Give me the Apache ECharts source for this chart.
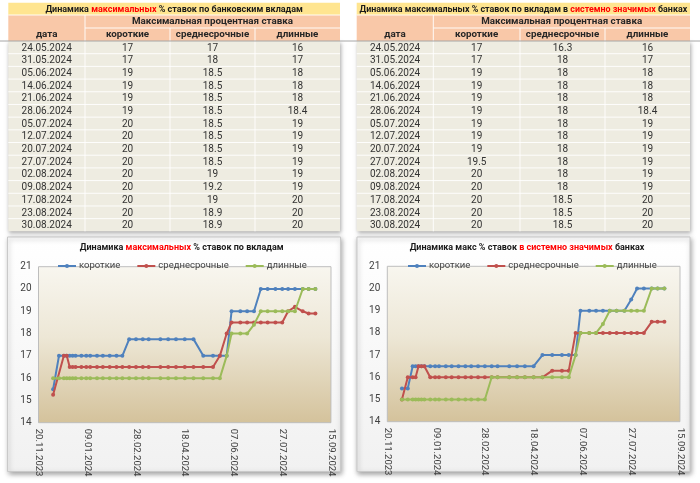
<!DOCTYPE html>
<html><head><meta charset="utf-8">
<script src="https://cdn.jsdelivr.net/npm/echarts@6/dist/echarts.min.js"></script>
<style>html,body{margin:0;padding:0;background:#fff}#c{width:700px;height:483px}</style>
</head><body><div id="c"></div>
<script>
// ---------- DATA ----------
const dates = ['05.12.2023','11.12.2023','16.12.2023','19.12.2023','22.12.2023','25.12.2023','28.12.2023',
  '03.01.2024','08.01.2024','12.01.2024','19.01.2024','25.01.2024','01.02.2024','08.02.2024','14.02.2024',
  '21.02.2024','28.02.2024','06.03.2024','12.03.2024','24.03.2024','01.04.2024','09.04.2024','18.04.2024',
  '27.04.2024','07.05.2024','17.05.2024','24.05.2024','31.05.2024','05.06.2024','14.06.2024','21.06.2024',
  '28.06.2024','05.07.2024','12.07.2024','20.07.2024','27.07.2024','02.08.2024','09.08.2024','17.08.2024',
  '23.08.2024','30.08.2024'];
// all banks
const shortAll = [15.5,17,17,17,17,17,17,17,17,17,17,17,17,17,17,
  17.75,17.75,17.75,17.75,17.75,17.75,17.75,17.75,17.75,
  17,17,17,17,19,19,19,19,20,20,20,20,20,20,20,20,20];
const midAll = [15.25,null,17,17,16.5,16.5,16.5,16.5,16.5,16.5,16.5,16.5,16.5,16.5,16.5,16.5,16.5,16.5,16.5,16.5,16.5,16.5,16.5,16.5,16.5,16.5,
  17,18,18.5,18.5,18.5,18.5,18.5,18.5,18.5,18.5,19,19.2,19,18.9,18.9];
const longAll = [16,16,16,16,16,16,16,16,16,16,16,16,16,16,16,16,16,16,16,16,16,16,16,16,16,16,16,
  17,18,18,18,18.4,19,19,19,19,19,19,20,20,20];
// systemically important banks
const shortSys = [15.5,15.5,16.5,16.5,16.5,16.5,16.5,16.5,16.5,16.5,16.5,16.5,16.5,16.5,16.5,16.5,16.5,16.5,16.5,16.5,16.5,16.5,16.5,
  17,17,17,17,17,19,19,19,19,19,19,19,19.5,20,20,20,20,20];
const midSys = [15,16,16,16,16.5,16.5,16.5,16,16,16,16,16,16,16,16,16,16,16,16,16,16,16,16,16,
  16.3,16.3,16.3,18,18,18,18,18,18,18,18,18,18,18,18.5,18.5,18.5];
const longSys = [15,15,15,15,15,15,15,15,15,15,15,15,15,15,15,15,15,
  16,16,16,16,16,16,16,16,16,16,17,18,18,18,18.4,19,19,19,19,19,19,20,20,20];
const seriesNames = ['короткие','среднесрочные','длинные'];
const xTicks = ['20.11.2023','09.01.2024','28.02.2024','18.04.2024','07.06.2024','27.07.2024','15.09.2024'];
const yTicks = [14,15,16,17,18,19,20,21];
const tableRows = 15;

// ---------- HELPERS ----------
const FONT = 'Roboto';
const DAY = 86400000;
function ts(s){const p=s.split('.').map(Number);return Date.UTC(p[2],p[1]-1,p[0]);}
const t0 = ts(xTicks[0]);
function dayOf(s){return (ts(s)-t0)/DAY;}
function pad(n){return (n<10?'0':'')+n;}
function fmtDay(v){const d=new Date(t0+Math.round(v)*DAY);return pad(d.getUTCDate())+'.'+pad(d.getUTCMonth()+1)+'.'+d.getUTCFullYear();}
const colors = ['#4F81BD','#C0504D','#9BBB59'];
const mctx=document.createElement('canvas').getContext('2d');
function fitSize(plain,target){mctx.font='bold 10px '+FONT;return Math.min(11,10*target/mctx.measureText(plain).width);}
function richTitle(parts,x,y,target,z){
  const plain=parts.map(p=>p[0]).join('');
  const fs=fitSize(plain,target);
  const text=parts.map(p=>'{'+(p[1]?'r':'b')+'|'+p[0]+'}').join('');
  return {type:'text',z:z||3,style:{x:x,y:y,align:'center',verticalAlign:'middle',text:text,
    rich:{b:{fontFamily:FONT,fontWeight:'bold',fontSize:fs,fill:'#1a1a1a'},r:{fontFamily:FONT,fontWeight:'bold',fontSize:fs,fill:'#FF0000'}}}};
}

function tableEls(cols, titleParts, titleW, arrs){
  const els=[]; const L=cols[0], R=cols[4];
  const yT=2.7, yH1=15, yH2=28, yD=41, rh=12.69;
  const N=dates.length, start=N-tableRows;
  els.push({type:'rect',z:1,shape:{x:L,y:yD,width:R-L,height:tableRows*rh},style:{fill:'#EEECE1',shadowBlur:4,shadowOffsetX:1,shadowOffsetY:2,shadowColor:'rgba(0,0,0,0.35)'}});
  els.push({type:'rect',z:1,shape:{x:L,y:yT,width:R-L,height:yH1-yT},style:{fill:'#FFE590'}});
  els.push({type:'rect',z:1,shape:{x:L,y:yH1,width:R-L,height:yD-yH1},style:{fill:'#F9C8A8'}});
  const wl='rgba(255,255,255,0.9)';
  els.push({type:'line',z:2,shape:{x1:cols[1],y1:yH1,x2:cols[1],y2:yD+tableRows*rh},style:{stroke:wl,lineWidth:1}});
  for(let c=2;c<4;c++) els.push({type:'line',z:2,shape:{x1:cols[c],y1:yH2,x2:cols[c],y2:yD+tableRows*rh},style:{stroke:wl,lineWidth:1}});
  els.push({type:'line',z:2,shape:{x1:cols[1],y1:yH2,x2:R,y2:yH2},style:{stroke:wl,lineWidth:1}});
  els.push({type:'line',z:2,shape:{x1:L,y1:yH1,x2:R,y2:yH1},style:{stroke:wl,lineWidth:1}});
  for(let r=1;r<tableRows;r++) els.push({type:'line',z:2,shape:{x1:L,y1:yD+r*rh,x2:R,y2:yD+r*rh},style:{stroke:wl,lineWidth:1}});
  const cx=c=>(cols[c]+cols[c+1])/2;
  els.push(richTitle(titleParts,(L+R)/2,(yT+yH1)/2+0.5,titleW));
  const hs={fontFamily:FONT,fontWeight:'bold',fontSize:9.8,fill:'#262626',align:'center',verticalAlign:'middle'};
  els.push({type:'text',z:3,style:Object.assign({x:(cols[1]+R)/2,y:(yH1+yH2)/2+0.5,text:'Максимальная процентная ставка'},hs)});
  const hdr=['дата'].concat(seriesNames);
  for(let c=0;c<4;c++) els.push({type:'text',z:3,style:Object.assign({x:cx(c),y:(yH2+yD)/2+0.5,text:hdr[c]},hs)});
  const ds={fontFamily:FONT,fontSize:10,fill:'#333',align:'center',verticalAlign:'middle'};
  for(let r=0;r<tableRows;r++){
    const i=start+r, y=yD+r*rh+rh/2+0.7;
    const vals=[dates[i]].concat(arrs.map(a=>String(a[i])));
    for(let c=0;c<4;c++) els.push({type:'text',z:3,style:Object.assign({x:cx(c),y:y,text:vals[c]},ds)});
  }
  return els;
}
function panel(x,y,w,h){
  return {type:'rect',z:0,shape:{x:x,y:y,width:w,height:h},style:{
    fill:{type:'linear',x:0,y:0,x2:0,y2:1,colorStops:[{offset:0,color:'#FFFFFF'},{offset:1,color:'#F1F1F1'}]},
    stroke:'#C9C9C9',lineWidth:1,shadowBlur:5,shadowOffsetX:1,shadowOffsetY:2,shadowColor:'rgba(0,0,0,0.35)'}};
}

const xMin=dayOf(xTicks[0]), xMax=dayOf(xTicks[xTicks.length-1]), xInt=dayOf(xTicks[1])-xMin;
function xAxis(gi){return {type:'value',gridIndex:gi,min:xMin,max:xMax,interval:xInt,
  axisLine:{show:false},axisTick:{show:false},
  splitLine:{show:true,lineStyle:{color:'rgba(255,255,255,0.9)',width:1}},
  axisLabel:{rotate:-90,margin:6,fontFamily:FONT,fontSize:9.5,color:'#404040',formatter:v=>fmtDay(v)}};}
function yAxis(gi){return {type:'value',gridIndex:gi,min:yTicks[0],max:yTicks[yTicks.length-1],interval:yTicks[1]-yTicks[0],
  axisLine:{show:false},axisTick:{show:false},
  splitLine:{show:true,lineStyle:{color:'rgba(255,255,255,0.9)',width:1}},
  axisLabel:{margin:7,fontFamily:FONT,fontSize:10,color:'#404040'}};}
function series(gi,arrs){
  return arrs.map((a,k)=>({type:'line',name:seriesNames[k],xAxisIndex:gi,yAxisIndex:gi,
    data:dates.map((d,i)=>[dayOf(d),a[i]]),connectNulls:true,symbol:'circle',symbolSize:4,showSymbol:true,
    color:colors[k],lineStyle:{width:2,color:colors[k]},itemStyle:{color:colors[k]},animation:false,z:3+k}));
}
const gridBg={type:'linear',x:0,y:0,x2:0,y2:1,colorStops:[{offset:0,color:'#F8F6EF'},{offset:0.45,color:'#EDE7D6'},{offset:1,color:'#D4C29B'}]};
function legend(left){return {data:seriesNames,left:left,top:256,itemWidth:18,itemHeight:5,itemGap:16,selectedMode:false,
  textStyle:{fontFamily:FONT,fontSize:9.5,color:'#404040',padding:[0,0,0,-2]}};}

const chart=echarts.init(document.getElementById('c'),null,{renderer:'canvas'});
chart.setOption({
  animation:false,
  backgroundColor:'#ffffff',
  graphic:{elements:[
    panel(7.5,237,333,234.5), panel(357,237,333,234.5),
    ...tableEls([8.3,85,170,255,340],[['Динамика '],['максимальных',1],[' % ставок по банковским вкладам']],258,[shortAll,midAll,longAll]),
    ...tableEls([356.7,433.3,520,605,690],[['Динамика максимальных % ставок по вкладам в '],['системно значимых',1],[' банках']],328,[shortSys,midSys,longSys]),
    {type:'line',z:4,shape:{x1:0,y1:41,x2:700,y2:41},style:{stroke:'#A6A6A6',lineWidth:1}},
    richTitle([['Динамика '],['максимальных',1],[' % ставок по вкладам']],181.7,248,204),
    richTitle([['Динамика макс % ставок '],['в системно значимых',1],[' банках']],527,248,235)
  ]},
  legend:[legend(52),legend(402)],
  grid:[
    {left:38.5,top:266.7,width:292.5,height:156,show:true,backgroundColor:gridBg,borderColor:'#BDBDBD',borderWidth:1,z:1},
    {left:387.3,top:266.3,width:292.7,height:155.4,show:true,backgroundColor:gridBg,borderColor:'#BDBDBD',borderWidth:1,z:1}
  ],
  xAxis:[xAxis(0),xAxis(1)],
  yAxis:[yAxis(0),yAxis(1)],
  series:[...series(0,[shortAll,midAll,longAll]),...series(1,[shortSys,midSys,longSys])]
});
</script></body></html>
